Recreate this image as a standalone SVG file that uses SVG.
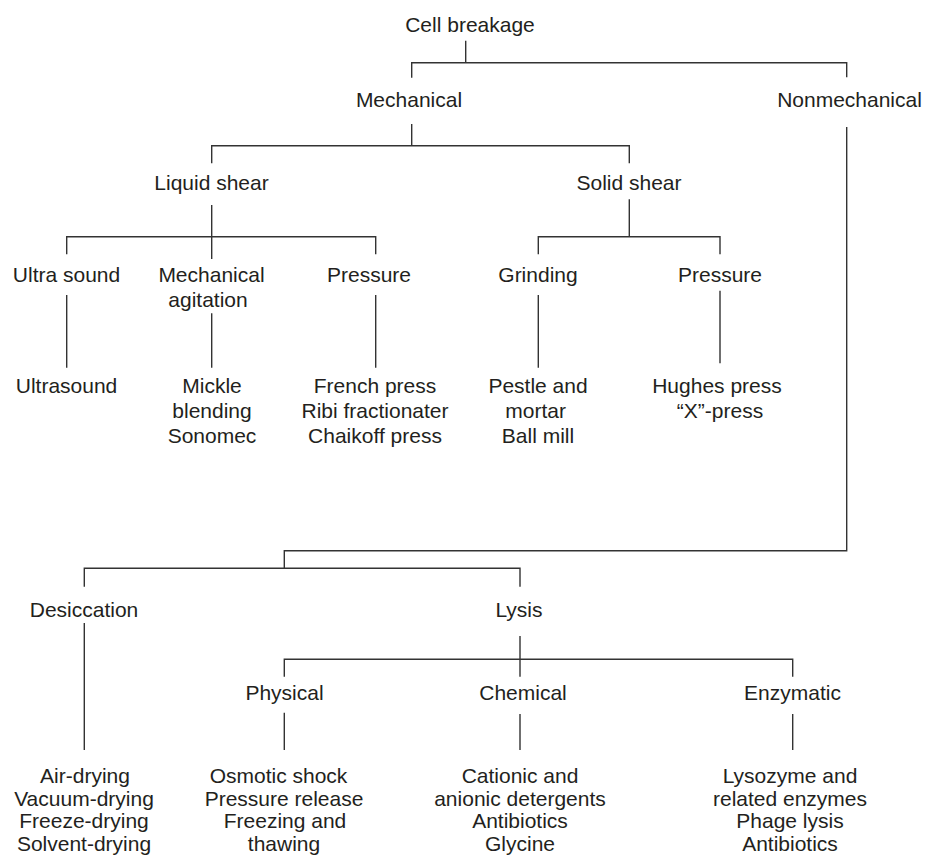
<svg xmlns="http://www.w3.org/2000/svg" width="925" height="861" viewBox="0 0 925 861">
<style>
text{font-family:"Liberation Sans",Arial,sans-serif;font-size:21px;fill:#231f20;text-anchor:middle}
.c path{fill:none;stroke:#333;stroke-width:1.4}
</style>
<rect width="925" height="861" fill="#fff"/>
<g class="c" id="connectors">
<path d="M465.7 40.7V62.7M411.7 77.7V62.7H846.7V77.3"/>
<path d="M411.7 124V145.7M211.7 163.3V145.7H629.3V163.3"/>
<path d="M211.7 205V259M66.7 254.3V236.7H375.7V254.3"/>
<path d="M629.3 199.3V236.7M538.3 254.3V236.7H720V254.3"/>
<path d="M66.7 295V367.7M211.7 313.3V367.7M375.7 295V367.7"/>
<path d="M538.3 295V367.7M720 290.7V363.3"/>
<path d="M846.7 127V550.7H284.3V568.3M84.3 586.7V568.3H520V586.7"/>
<path d="M84.3 623V750"/>
<path d="M520 636V676.7M284.3 676.7V659.3H792.7V676.7"/>
<path d="M284.3 712.7V750M520 714V750M792.7 714V750"/>
</g>
<g id="n-cell"><text x="470" y="31.7">Cell breakage</text></g>
<g id="n-mech"><text x="409" y="106.7">Mechanical</text></g>
<g id="n-nonmech"><text x="849.5" y="106.7">Nonmechanical</text></g>
<g id="n-liquid"><text x="211.5" y="190">Liquid shear</text></g>
<g id="n-solid"><text x="629" y="190">Solid shear</text></g>
<g id="n-ultrasound"><text x="66.5" y="281.7">Ultra sound</text></g>
<g id="n-agitation"><text x="211.5" y="281.7">Mechanical</text><text x="208" y="306.7">agitation</text></g>
<g id="n-pressure1"><text x="369" y="281.7">Pressure</text></g>
<g id="n-grinding"><text x="538" y="281.7">Grinding</text></g>
<g id="n-pressure2"><text x="720" y="281.7">Pressure</text></g>
<g id="n-ultrasound-ex"><text x="66.5" y="393.3">Ultrasound</text></g>
<g id="n-agitation-ex"><text x="212" y="393.3">Mickle</text><text x="212" y="418.3">blending</text><text x="212" y="443.3">Sonomec</text></g>
<g id="n-pressure1-ex"><text x="375" y="393.3">French press</text><text x="375" y="418.3">Ribi fractionater</text><text x="375" y="443.3">Chaikoff press</text></g>
<g id="n-grinding-ex"><text x="538" y="393.3">Pestle and</text><text x="535.7" y="418.3">mortar</text><text x="538" y="443.3">Ball mill</text></g>
<g id="n-pressure2-ex"><text x="717" y="393.3">Hughes press</text><text x="720" y="418.3">“X”-press</text></g>
<g id="n-desiccation"><text x="84" y="616.5">Desiccation</text></g>
<g id="n-lysis"><text x="519" y="616.5">Lysis</text></g>
<g id="n-physical"><text x="284.5" y="700">Physical</text></g>
<g id="n-chemical"><text x="523" y="700">Chemical</text></g>
<g id="n-enzymatic"><text x="792.5" y="700">Enzymatic</text></g>
<g id="n-desiccation-ex"><text x="85" y="783.3">Air-drying</text><text x="84" y="805.8">Vacuum-drying</text><text x="84" y="828.3">Freeze-drying</text><text x="84" y="850.8">Solvent-drying</text></g>
<g id="n-physical-ex"><text x="278.5" y="783.3">Osmotic shock</text><text x="284" y="805.8">Pressure release</text><text x="285" y="828.3">Freezing and</text><text x="284" y="850.8">thawing</text></g>
<g id="n-chemical-ex"><text x="520" y="783.3">Cationic and</text><text x="520" y="805.8">anionic detergents</text><text x="520" y="828.3">Antibiotics</text><text x="520" y="850.8">Glycine</text></g>
<g id="n-enzymatic-ex"><text x="790" y="783.3">Lysozyme and</text><text x="790" y="805.8">related enzymes</text><text x="790" y="828.3">Phage lysis</text><text x="790" y="850.8">Antibiotics</text></g>
</svg>
